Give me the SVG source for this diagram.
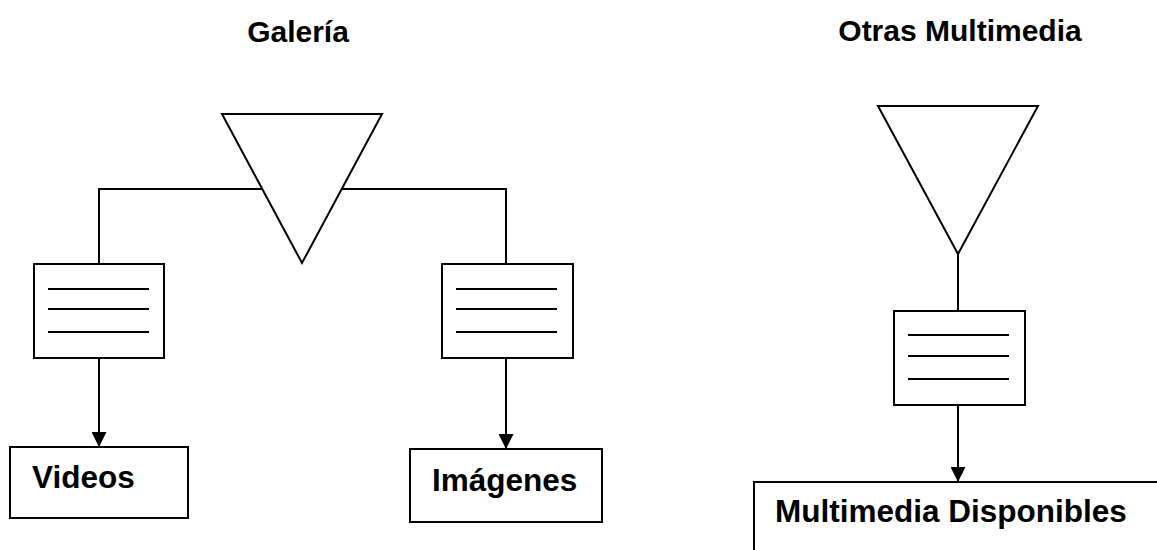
<svg xmlns="http://www.w3.org/2000/svg" width="1157" height="550" viewBox="0 0 1157 550">
  <style>
    .ln { fill: none; stroke: #000; stroke-width: 2; }
    .shape { fill: #fff; stroke: #000; stroke-width: 2; }
    .rule { stroke: #000; stroke-width: 2; }
    .title { font-family: "Liberation Sans", Arial, sans-serif; font-weight: bold; font-size: 30px; fill: #000; }
    .label { font-family: "Liberation Sans", Arial, sans-serif; font-weight: bold; font-size: 31.5px; fill: #000; }
  </style>
  <defs>
    <marker id="arrow" markerWidth="15" markerHeight="15" refX="15" refY="7.5" orient="auto" markerUnits="userSpaceOnUse" viewBox="0 0 15 15">
      <path d="M0,0 L15,7.5 L0,15 Z" fill="#000"/>
    </marker>
  </defs>
  <rect width="1157" height="550" fill="#fff"/>

  <g id="headings">
    <text class="title" x="298" y="42" text-anchor="middle">Galería</text>
    <text class="title" x="960" y="41" text-anchor="middle">Otras Multimedia</text>
  </g>

  <!-- connectors -->
  <g id="connectors">
    <path class="ln" d="M262,189 H99 V264"/>
    <path class="ln" d="M342,189 H506 V264"/>
    <path class="ln" d="M958,254 V311"/>
    <path class="ln" d="M99,358 V447" marker-end="url(#arrow)"/>
    <path class="ln" d="M506,358 V449" marker-end="url(#arrow)"/>
    <path class="ln" d="M958,405 V482" marker-end="url(#arrow)"/>
  </g>

  <!-- merge triangles -->
  <g id="galeria-merge">
    <polygon class="shape" points="222,114 382,114 302,263"/>
  </g>
  <g id="otras-merge">
    <polygon class="shape" points="878,106 1038,106 958,254"/>
  </g>

  <!-- document boxes -->
  <g id="doc-videos">
    <rect class="shape" x="34" y="264" width="130" height="94"/>
    <line class="rule" x1="48" y1="289" x2="149" y2="289"/>
    <line class="rule" x1="48" y1="309" x2="149" y2="309"/>
    <line class="rule" x1="48" y1="332" x2="149" y2="332"/>
  </g>
  <g id="doc-imagenes">
    <rect class="shape" x="442" y="264" width="131" height="94"/>
    <line class="rule" x1="456" y1="289" x2="557" y2="289"/>
    <line class="rule" x1="456" y1="309" x2="557" y2="309"/>
    <line class="rule" x1="456" y1="332" x2="557" y2="332"/>
  </g>
  <g id="doc-multimedia">
    <rect class="shape" x="894" y="311" width="131" height="94"/>
    <line class="rule" x1="908" y1="335" x2="1009" y2="335"/>
    <line class="rule" x1="908" y1="356" x2="1009" y2="356"/>
    <line class="rule" x1="908" y1="379" x2="1009" y2="379"/>
  </g>

  <!-- result boxes -->
  <g id="videos">
    <rect class="shape" x="10" y="447" width="178" height="71"/>
    <text class="label" x="32" y="488">Videos</text>
  </g>
  <g id="imagenes">
    <rect class="shape" x="410" y="449" width="192" height="73"/>
    <text class="label" x="432" y="491">Imágenes</text>
  </g>
  <g id="multimedia-disponibles">
    <rect class="shape" x="754" y="482" width="420" height="90"/>
    <text class="label" x="775" y="522">Multimedia Disponibles</text>
  </g>
</svg>
